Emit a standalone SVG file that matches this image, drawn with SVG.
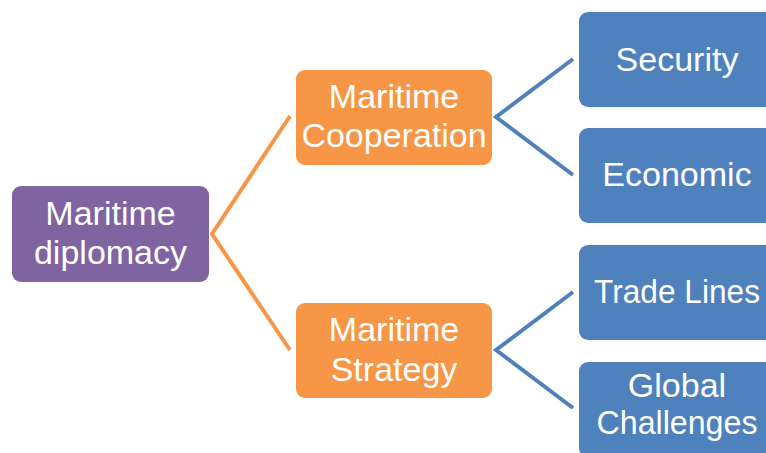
<svg xmlns="http://www.w3.org/2000/svg" width="766" height="453" viewBox="0 0 766 453">
  <style>
    .box { stroke: none; }
    .purple { fill: #8064A2; }
    .orange { fill: #F79646; }
    .blue { fill: #4F81BD; }
    .lbl { fill: #FFFFFF; font-family: "Liberation Sans", Arial, sans-serif; font-size: 34px; text-anchor: middle; }
    .conn { fill: none; stroke-width: 4; stroke-linejoin: miter; }
    .c-orange { stroke: #F79646; }
    .c-blue { stroke: #4F81BD; }
  </style>
  <rect width="766" height="453" fill="#FFFFFF"/>

  <g id="connectors">
    <polyline class="conn c-orange" points="290,116 212,234 290,350"/>
    <polyline class="conn c-blue" points="573,59 496,117 573,175"/>
    <polyline class="conn c-blue" points="573,292 496,350 573,408"/>
  </g>

  <g id="node-maritime-diplomacy">
    <rect class="box purple" x="12" y="186" width="197" height="96" rx="9"/>
    <text class="lbl" x="110.5" y="225">Maritime</text>
    <text class="lbl" x="110.5" y="264">diplomacy</text>
  </g>

  <g id="node-maritime-cooperation">
    <rect class="box orange" x="296" y="70" width="196" height="95" rx="9"/>
    <text class="lbl" x="394" y="108">Maritime</text>
    <text class="lbl" x="394" y="147">Cooperation</text>
  </g>

  <g id="node-maritime-strategy">
    <rect class="box orange" x="296" y="303" width="196" height="95" rx="9"/>
    <text class="lbl" x="394" y="341">Maritime</text>
    <text class="lbl" x="394" y="381">Strategy</text>
  </g>

  <g id="node-security">
    <rect class="box blue" x="579" y="12" width="196" height="95" rx="9"/>
    <text class="lbl" x="677" y="71">Security</text>
  </g>

  <g id="node-economic">
    <rect class="box blue" x="579" y="128" width="196" height="95" rx="9"/>
    <text class="lbl" x="677" y="186">Economic</text>
  </g>

  <g id="node-trade-lines">
    <rect class="box blue" x="579" y="245" width="196" height="95" rx="9"/>
    <text class="lbl" x="677" y="303" textLength="166" lengthAdjust="spacingAndGlyphs">Trade Lines</text>
  </g>

  <g id="node-global-challenges">
    <rect class="box blue" x="579" y="362" width="196" height="95" rx="9"/>
    <text class="lbl" x="677" y="397">Global</text>
    <text class="lbl" x="677" y="434" textLength="161" lengthAdjust="spacingAndGlyphs">Challenges</text>
  </g>
</svg>
